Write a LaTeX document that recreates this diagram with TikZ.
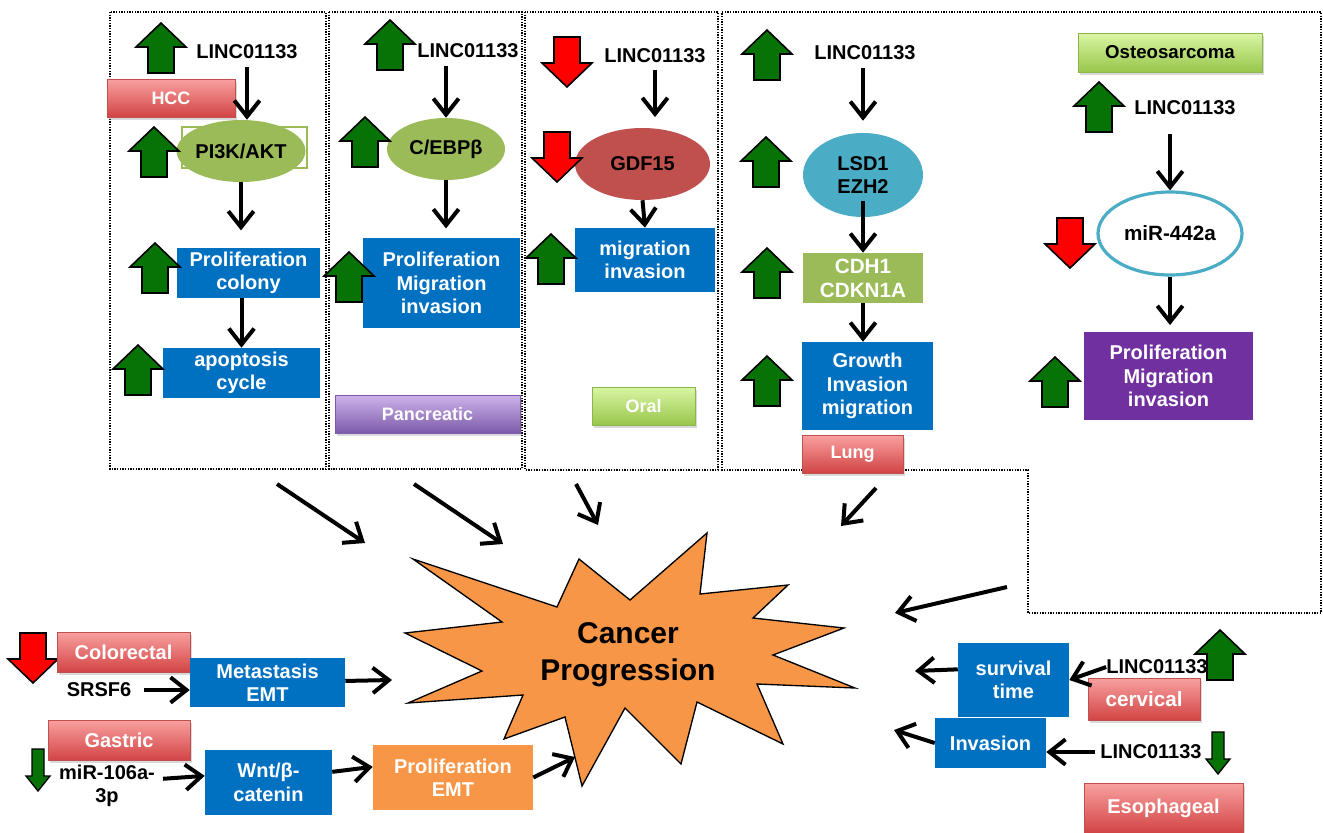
\documentclass[tikz,border=0pt]{standalone}
\usepackage{fontspec}
\setmainfont{Liberation Sans}
\usetikzlibrary{arrows.meta,shadows,shapes.geometric,calc}
\definecolor{pblue}{HTML}{0070C0}
\definecolor{agreen}{HTML}{077307}
\definecolor{ared}{HTML}{FF0000}
\definecolor{olivec}{HTML}{9BBB59}
\definecolor{gdfred}{HTML}{C0504D}
\definecolor{tealc}{HTML}{4BACC6}
\definecolor{purplec}{HTML}{7030A0}
\definecolor{orangec}{HTML}{F79646}
\definecolor{redtop}{HTML}{F9A0A0}
\definecolor{redmid}{HTML}{EF7A7A}
\definecolor{redbot}{HTML}{D24444}
\definecolor{redline}{HTML}{C0504D}
\definecolor{greentop}{HTML}{DAF5A4}
\definecolor{greenmid}{HTML}{BEE27C}
\definecolor{greenbot}{HTML}{98C64B}
\definecolor{greenline}{HTML}{8DB64A}
\definecolor{purptop}{HTML}{CDB3EA}
\definecolor{purpmid}{HTML}{A585D0}
\definecolor{purpbot}{HTML}{7D5BAA}
\newcommand{\fsz}[2]{\fontsize{#1}{#2}\selectfont}
\tikzset{
  pics/uparr/.style={code={\draw[fill=agreen,line width=1.2pt,line join=miter]
    (0,0) -- (25,24) -- (13,24) -- (13,50) -- (-13,50) -- (-13,24) -- (-25,24) -- cycle;}},
  pics/downarr/.style={code={\draw[fill=ared,line width=1.2pt,line join=miter]
    (-13,0) -- (13,0) -- (13,26) -- (25,26) -- (0,50) -- (-25,26) -- (-13,26) -- cycle;}},
  pics/thindown/.style={code={\draw[fill=agreen,line width=1pt,line join=miter]
    (-6,0) -- (6,0) -- (6,27) -- (12,27) -- (0,42) -- (-12,27) -- (-6,27) -- cycle;}},
  dotbox/.style={draw, line width=1pt, dash pattern=on 1pt off 1pt},
  gene/.style={text=black},
  bluebox/.style={rectangle, fill=pblue, text=white},
  ell/.style={ellipse, text=black},
  arr/.style={line width=3pt, -{Straight Barb[length=12pt,width=19pt]}},
  lshadow/.style={drop shadow={shadow xshift=1.2pt, shadow yshift=-2pt, opacity=0.3}},
  redlab/.style={rectangle, draw=redline, line width=0.6pt, top color=redtop, middle color=redmid, bottom color=redbot, text=white, lshadow},
  greenlab/.style={rectangle, draw=greenline, line width=0.6pt, top color=greentop, middle color=greenmid, bottom color=greenbot, lshadow},
  purplab/.style={rectangle, draw=purpbot, line width=0.6pt, top color=purptop, middle color=purpmid, bottom color=purpbot, text=white, lshadow},
  toplab/.style={font=\bfseries\fsz{13.5}{16}}
}
\begin{document}
\begin{tikzpicture}[x=0.75pt,y=-0.75pt,
  every node/.style={inner sep=0pt, align=center, font=\bfseries\fsz{15}{17.5}}]
\useasboundingbox (0,0) rectangle (1323,832);

% group frames
\draw[dotbox] (110,12) rectangle (326,469);
\draw[dotbox] (329,12) rectangle (522,469);
\draw[dotbox] (525,12) rectangle (718,470);
\draw[dotbox] (722,12) -- (1321,12) -- (1321,613) -- (1028,613) -- (1028,470) -- (722,470) -- cycle;

% ---------- column 1: HCC
\node[gene] (l1) at (247,52) {LINC01133};
\node[rectangle, draw=olivec, line width=0.8pt, fill=white, minimum width=93.75pt, minimum height=30.75pt] (pirect) at (244.5,147.5) {};
\node[ell, fill=olivec, minimum width=87.75pt, minimum height=46.5pt] (pi3k) at (241,151) {PI3K/AKT};
\node[bluebox, minimum width=107.25pt, minimum height=37.5pt] (pc) at (248.5,273) {Proliferation\\colony};
\node[bluebox, minimum width=117.75pt, minimum height=37.5pt] (ac) at (241.5,373) {apoptosis\\cycle};
\node[redlab, toplab, minimum width=96pt, minimum height=28.5pt] (hcc) at (171,98) {HCC};
\pic at (161,23) {uparr};
\pic at (154,127) {uparr};
\pic at (155,243) {uparr};
\pic at (138,345) {uparr};
\draw[arr, shorten <=6pt] (l1.south) -- (l1.south |- pi3k.north);
\draw[arr, shorten >=13pt] (pi3k.south) -- (pi3k.south |- pc.north);
\draw[arr] (ac.north |- pc.south) -- (ac.north);

% ---------- column 2: Pancreatic
\node[gene] (l2) at (468,51) {LINC01133};
\node[ell, fill=olivec, minimum width=88.5pt, minimum height=46.5pt] (cebp) at (446,149) {C/EBPβ};
\node[bluebox, minimum width=117.75pt, minimum height=67.5pt] (pmi) at (441.5,283) {Proliferation\\Migration\\invasion};
\node[purplab, toplab, minimum width=138.75pt, minimum height=28.5pt] (panc) at (427.5,414) {Pancreatic};
\pic at (390,20) {uparr};
\pic at (365,117) {uparr};
\pic at (349,252) {uparr};
\draw[arr, shorten <=6pt] (cebp.north |- l2.south) -- (cebp.north);
\draw[arr, shorten >=7pt] (cebp.south) -- (cebp.south |- pmi.north);

% ---------- column 3: Oral
\node[gene] (l3) at (655,56) {LINC01133};
\node[ell, fill=gdfred, minimum width=101.25pt, minimum height=54pt] (gdf) at (642.5,164) {GDF15};
\node[bluebox, minimum width=105pt, minimum height=48pt] (mi) at (645,260) {migration\\invasion};
\node[greenlab, toplab, text=white, minimum width=77.25pt, minimum height=28.5pt] (oral) at (643.5,406) {Oral};
\pic at (567,37) {downarr};
\pic at (557,132) {downarr};
\pic at (551,234) {uparr};
\draw[arr, shorten <=5pt, shorten >=8pt] (l3.south) -- (l3.south |- gdf.north);
\draw[arr] (gdf.south) -- (mi.north);

% ---------- column 4: Lung
\node[gene] (l4) at (865,53) {LINC01133};
\node[ell, fill=tealc, minimum width=90pt, minimum height=63pt] (lsd) at (863,175) {LSD1\\EZH2};
\node[rectangle, fill=olivec, text=white, minimum width=90pt, minimum height=37.5pt, font=\bfseries\fsz{15.5}{18}] (cdh) at (863,278) {CDH1\\CDKN1A};
\node[bluebox, minimum width=98.25pt, minimum height=66pt] (gim) at (867.5,386) {Growth\\Invasion\\migration};
\node[redlab, toplab, minimum width=75.75pt, minimum height=28.5pt] (lung) at (852.5,454) {Lung};
\pic at (767,30) {uparr};
\pic at (766,137) {uparr};
\pic at (767,248) {uparr};
\pic at (767,356) {uparr};
\draw[arr, shorten <=6pt, shorten >=9pt] (lsd.north |- l4.south) -- (lsd.north);
\draw[arr, shorten <=-12pt] (lsd.south) -- (cdh.north);
\draw[arr] (cdh.south) -- (cdh.south |- gim.north);

% ---------- Osteosarcoma
\node[greenlab, font=\bfseries\fsz{14}{16}, text=black, minimum width=138pt, minimum height=29.25pt] (osteo) at (1170,52.5) {Osteosarcoma};
\node[gene] (l5) at (1185,108) {LINC01133};
\node[ell, draw=tealc, line width=2.4pt, fill=white, minimum width=108pt, minimum height=62.25pt, font=\bfseries\fsz{15.5}{18}] (mir) at (1170,233.5) {miR-442a};
\node[rectangle, fill=purplec, text=white, minimum width=126.75pt, minimum height=66pt] (pp) at (1168.5,376) {Proliferation\\Migration\\invasion};
\pic at (1099,82) {uparr};
\pic at (1070,218) {downarr};
\pic at (1055,357) {uparr};
\draw[arr, shorten <=14pt] (mir.north |- l5.south) -- (mir.north);
\draw[arr, shorten >=5pt] (mir.south) -- (mir.south |- pp.north);

% ---------- central star
\draw[fill=orangec, line width=1pt, line join=miter]
  (413,559) -- (557,607) -- (579,559) -- (630,600) -- (707,533) -- (700,594)
  -- (788,585) -- (753,618) -- (844,628) -- (773,655) -- (855,688) -- (757,684)
  -- (783,744) -- (697,702) -- (681,764) -- (625,708) -- (582,786) -- (565,717)
  -- (504,739) -- (523,695) -- (408,703) -- (482,671) -- (405,633) -- (502,622) -- cycle;
\node[font=\bfseries\fsz{22.5}{28}] (title) at (628,655) {Cancer\\Progression};

% arrows from the frames to the star
\coordinate (d1a) at (277,484); \coordinate (d1b) at (365,543);
\coordinate (d2a) at (414,484); \coordinate (d2b) at (503,544);
\coordinate (d3a) at (576,484); \coordinate (d3b) at (598,525);
\coordinate (d4a) at (876,488); \coordinate (d4b) at (841,526);
\coordinate (d5a) at (1007,587); \coordinate (d5b) at (895,613);
\draw[arr] (d1a) -- (d1b);
\draw[arr] (d2a) -- (d2b);
\draw[arr] (d3a) -- (d3b);
\draw[arr] (d4a) -- (d4b);
\draw[arr] (d5a) -- (d5b);

% ---------- bottom left
\pic at (33,633) {downarr};
\node[redlab, minimum width=99.75pt, minimum height=30pt] (colo) at (123.5,652) {Colorectal};
\node[gene] (srsf) at (99,690) {SRSF6};
\node[bluebox, minimum width=116.25pt, minimum height=36.75pt] (met) at (267.5,682.5) {Metastasis\\EMT};
\coordinate (s1) at (392,680);
\draw[arr, shorten <=9pt] (srsf.east) -- (srsf.east -| met.west);
\draw[arr] (met) -- (s1);

\pic at (38,749) {thindown};
\node[redlab, minimum width=106.5pt, minimum height=30pt] (gast) at (119,740) {Gastric};
\node[gene] (mir106) at (107,786) {miR-106a-\\3p};
\node[bluebox, minimum width=95.25pt, minimum height=48.75pt] (wnt) at (268.5,782.5) {Wnt/β-\\catenin};
\node[rectangle, fill=orangec, text=white, minimum width=120pt, minimum height=48.75pt] (pemt) at (453,777.5) {Proliferation\\EMT};
\coordinate (s2) at (575,757);
\draw[arr, shorten <=6pt] ([yshift=5pt]mir106.east) -- ([yshift=5pt]wnt.west);
\draw[arr] ([yshift=8pt]wnt.east) -- ([yshift=8pt]pemt.west);
\draw[arr] (pemt.east) -- (s2);

% ---------- bottom right
\node[gene] (l6) at (1157,667) {LINC01133};
\node[bluebox, minimum width=83.25pt, minimum height=55.5pt] (surv) at (1013.5,680) {survival\\time};
\node[redlab, font=\bfseries\fsz{15.5}{18}, minimum width=84pt, minimum height=31.5pt] (cerv) at (1144,699) {cervical};
\pic at (1220,630) {uparr};
\coordinate (s3) at (915,671);
\draw[arr] (l6.west) -- (surv.east);
\draw[arr] ([yshift=8pt]surv.west) -- (s3);

\node[gene] (l7) at (1151,752) {LINC01133};
\node[bluebox, minimum width=83.25pt, minimum height=37.5pt] (inv) at (990.5,743) {Invasion};
\node[redlab, minimum width=119.25pt, minimum height=37.5pt] (eso) at (1163.5,808) {Esophageal};
\pic at (1218,732) {thindown};
\coordinate (s4) at (894,730);
\draw[arr, shorten <=4pt] (l7.west) -- (l7.west -| inv.east);
\draw[arr] (inv.west) -- (s4);
\end{tikzpicture}
\end{document}
